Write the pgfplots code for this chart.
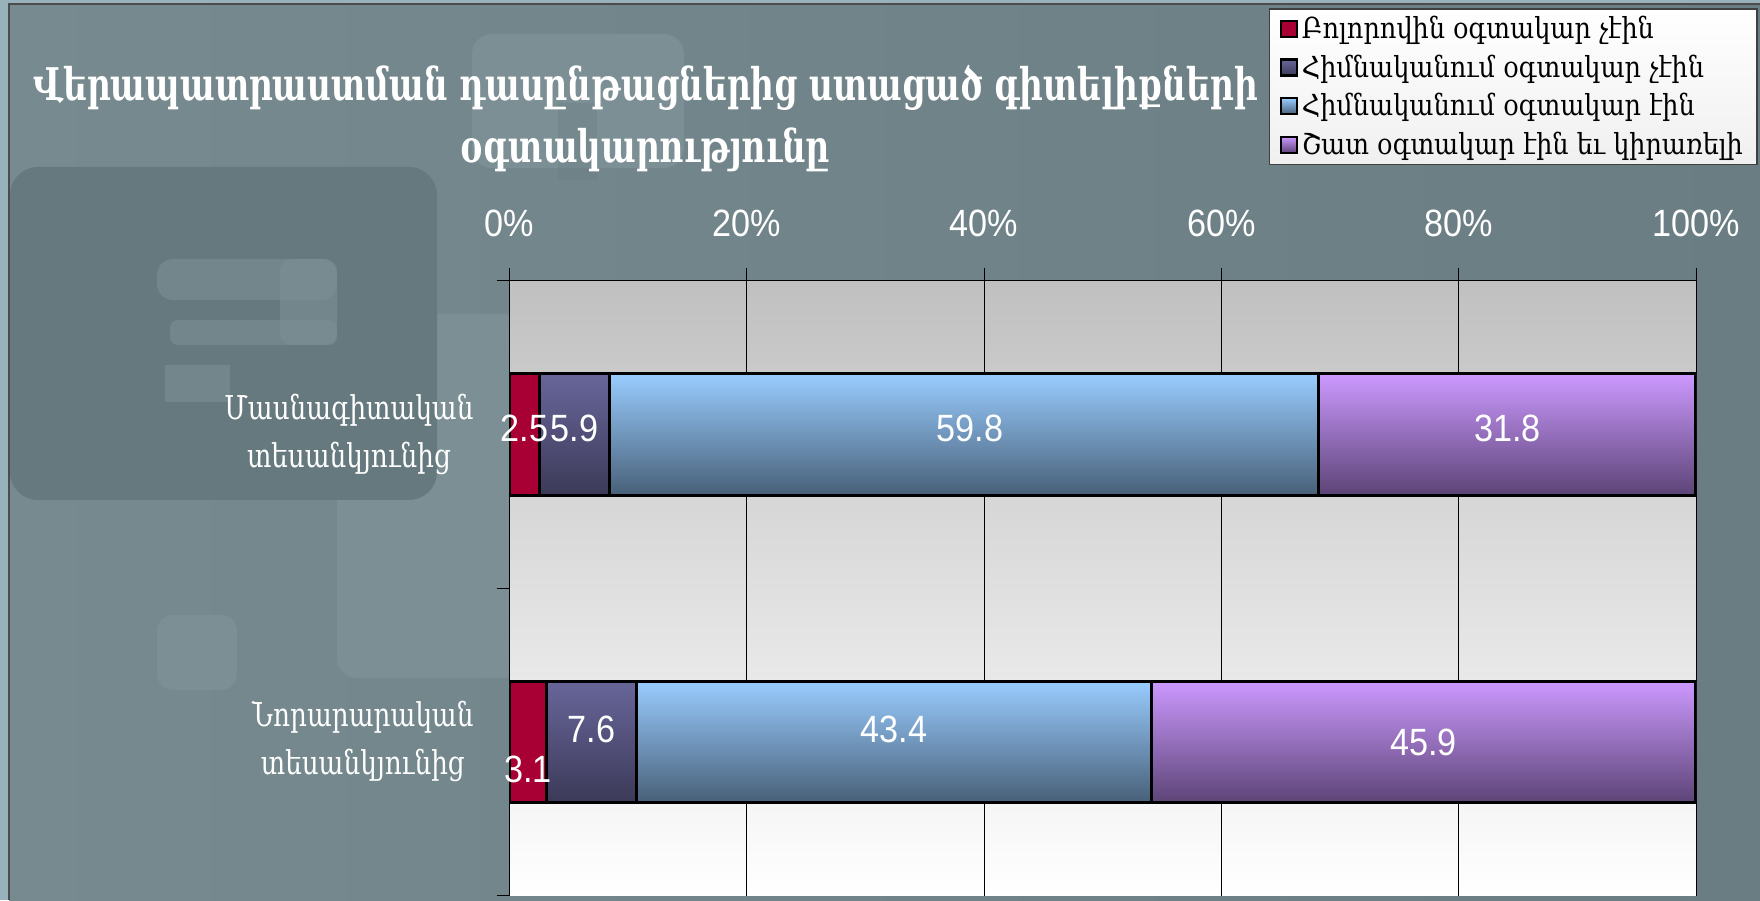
\documentclass[border=0pt]{standalone}
\usepackage{pgfplots}
\pgfplotsset{compat=1.18}
\usepackage{fontspec}
\setmainfont{Liberation Sans}
\newfontfamily\armfont{DejaVu Serif}[Script=Armenian,FakeStretch=0.8]
\newfontfamily\armleg{DejaVu Serif}[Script=Armenian,FakeStretch=0.88]
\newfontfamily\armtitle{DejaVu Serif}[Script=Armenian,FakeStretch=0.73]
\newfontfamily\numfont{Liberation Sans}[FakeStretch=0.9]
\definecolor{bgL}{RGB}{118,138,144}
\definecolor{bgR}{RGB}{106,125,131}
\definecolor{frame}{RGB}{152,178,188}
\definecolor{decoDark}{RGB}{102,121,127}
\definecolor{decoLight}{RGB}{124,143,149}
\definecolor{sA}{RGB}{168,0,52}
\definecolor{sBt}{RGB}{104,102,154}
\definecolor{sBb}{RGB}{60,58,88}
\definecolor{sCt}{RGB}{153,204,255}
\definecolor{sCb}{RGB}{72,96,120}
\definecolor{sDt}{RGB}{204,153,255}
\definecolor{sDb}{RGB}{92,68,118}
\definecolor{plotTop}{RGB}{192,192,192}

\pgfplotstableread{
x     y     lab
1.25  -0.02 2.5
5.45  -0.02 5.9
38.8  -0.02 59.8
84.1  -0.02 31.8
1.55  1.09  3.1
6.9   0.96  7.6
32.4  0.96  43.4
77.05 1.00  45.9
}\labtab

\pgfplotsset{
  common/.style={
    at={(254.8pt,2.15pt)}, anchor=south west,
    scale only axis, width=593.2pt, height=307.55pt,
    xmin=0, xmax=100, ymin=-0.5, ymax=1.5, y dir=reverse,
  },
  barA/.style={draw=black, line width=1.6pt, fill=sA},
  barB/.style={draw=black, line width=1.6pt, top color=sBt, bottom color=sBb},
  barC/.style={draw=black, line width=1.6pt, top color=sCt, bottom color=sCb},
  barD/.style={draw=black, line width=1.6pt, top color=sDt, bottom color=sDb},
}

\begin{document}
\begin{tikzpicture}[x=1pt,y=1pt]
\useasboundingbox (0,0) rectangle (880,450);
% slide background
\fill[frame] (0,0) rectangle (880,450);
\shade[left color=bgL, right color=bgR] (4.5,0) rectangle (880,448);
\draw[black!70, line width=0.6pt] (4.5,0) -- (4.5,448) -- (880,448);
% decorations
\fill[decoLight, rounded corners=10pt] (236,366) rectangle (342,433);
\fill[bgR, opacity=0.35] (279,360) rectangle (298.5,398.5);
\fill[decoLight, rounded corners=10pt] (168.5,111) rectangle (262,293);
\fill[decoDark, rounded corners=14pt] (5,200) rectangle (218.5,366.5);
\fill[decoLight, opacity=0.6, rounded corners=8pt] (78.5,300) rectangle (168.5,320.5);
\fill[decoLight, opacity=0.6, rounded corners=6pt] (140,277.5) rectangle (168.5,320.5);
\fill[decoLight, opacity=0.6, rounded corners=4pt] (85,277.5) rectangle (168.5,290);
\fill[decoLight, opacity=0.6] (82.5,249) rectangle (115,267.5);
\fill[decoLight, rounded corners=8pt] (78.5,105) rectangle (118.5,142.5);
% title
\node[text=white, font=\armtitle\bfseries\fontsize{22.5}{31}\selectfont, align=center]
  at (322.7,390.9) {Վերապատրաստման դասընթացներից ստացած գիտելիքների\\օգտակարությունը};

\begin{axis}[
  common,
  xbar stacked, bar width=0.395,
  axis x line*=top, axis y line*=left,
  axis line style={black, line width=0.8pt},
  axis background/.style={top color=plotTop, bottom color=white},
  xtick={0,20,40,60,80,100},
  xticklabels={0\%,20\%,40\%,60\%,80\%,100\%},
  xticklabel style={text=white, font=\numfont\fontsize{19}{22}\selectfont, yshift=12pt},
  xmajorgrids, major grid style={black, line width=0.5pt},
  tick align=outside, major tick length=6.5pt,
  x tick style={black, line width=0.5pt},
  ytick={0,1},
  yticklabels={{Մասնագիտական\\տեսանկյունից},{Նորարարական\\տեսանկյունից}},
  y tick style={draw=none},
  yticklabel style={text=white, align=center, font=\armfont\fontsize{16.4}{24}\selectfont, xshift=-8pt},
  extra y ticks={-0.5,0.5,1.5},
  extra y tick labels={},
  extra y tick style={y tick style={draw=black, line width=0.5pt}, grid=none},
  legend style={at={(1.052,1.4425)}, anchor=north east,
    draw=black!75, line width=0.8pt, top color=white, bottom color=black!6,
    font=\armleg\fontsize{14.5}{16}\selectfont, text=black,
    row sep=2.6pt, inner xsep=5pt, inner ysep=1.5pt},
  legend cell align=left,
  legend image code/.code={\draw[#1, draw=black, line width=1.2pt] (0pt,-4pt) rectangle (8pt,4pt);},
]
\addplot[barA] coordinates {(2.5,0)};
\addplot[barB] coordinates {(5.9,0)};
\addplot[barC] coordinates {(59.8,0)};
\addplot[barD] coordinates {(31.8,0)};
\legend{Բոլորովին օգտակար չէին, Հիմնականում օգտակար չէին, Հիմնականում օգտակար էին, Շատ օգտակար էին եւ կիրառելի}
\end{axis}

\begin{axis}[common, xbar stacked, bar width=0.395, hide axis]
\addplot[barA] coordinates {(3.1,1)};
\addplot[barB] coordinates {(7.6,1)};
\addplot[barC] coordinates {(43.4,1)};
\addplot[barD] coordinates {(45.9,1)};
\end{axis}

\begin{axis}[common, hide axis, clip=false]
\addplot[draw=none, mark=none, nodes near coords, point meta=explicit symbolic,
  every node near coord/.append style={anchor=center, text=white, font=\numfont\fontsize{19}{22}\selectfont, inner sep=0pt}]
  table[x=x, y=y, meta=lab] {\labtab};
\end{axis}
\end{tikzpicture}
\end{document}
